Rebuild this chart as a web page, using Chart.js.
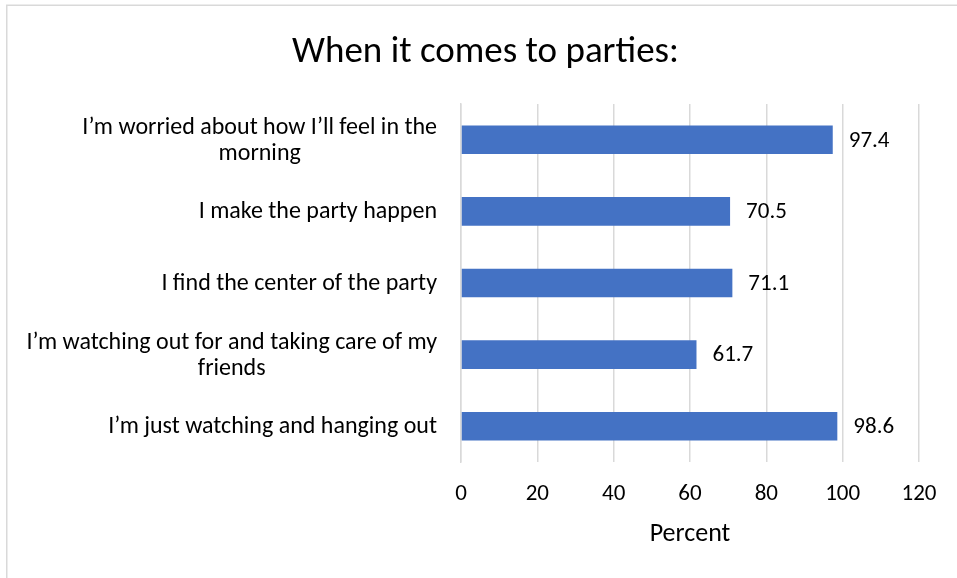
<!DOCTYPE html>
<html>
<head>
<meta charset="utf-8">
<script src="https://cdn.jsdelivr.net/npm/chart.js@4.4.0/dist/chart.umd.min.js"></script>
<style>
    html, body { margin: 0; padding: 0; background: #fff; }
    #wrap { width: 957px; height: 578px; position: relative; }
</style>
</head>
<body>
<div id="wrap"><canvas id="chartParties" width="957" height="578"></canvas></div>
<script>
// chart data
var categories = [
    ['I\u2019m worried about how I\u2019ll feel in the', 'morning'],
    ['I make the party happen'],
    ['I find the center of the party'],
    ['I\u2019m watching out for and taking care of my', 'friends'],
    ['I\u2019m just watching and hanging out']
];
var percentValues = [97.4, 70.5, 71.1, 61.7, 98.6];
var xTicks = [0, 20, 40, 60, 80, 100, 120];

var fontFamily = 'Carlito, Lato, "Open Sans", sans-serif';

// frame round the chart, like the excel chart border
var framePlugin = {
    id: 'frame',
    beforeDraw: function(chart) {
        var ctx = chart.ctx;
        ctx.save();
        ctx.fillStyle = '#ffffff';
        ctx.fillRect(0, 0, chart.width, chart.height);
        ctx.strokeStyle = '#d9d9d9';
        ctx.lineWidth = 1.5;
        ctx.strokeRect(6.75, 5.25, 1200, 1200);
        ctx.restore();
    }
};

// category labels, lines centred on each other, right edge near the axis
var catLabelPlugin = {
    id: 'catLabels',
    afterDraw: function(chart) {
        var ctx = chart.ctx;
        var yScale = chart.scales.y;
        var rightEdge = chart.chartArea.left - 24;
        var lineH = 26;
        ctx.save();
        ctx.font = '24px ' + fontFamily;
        ctx.fillStyle = '#000000';
        ctx.textAlign = 'center';
        ctx.textBaseline = 'middle';
        categories.forEach(function(lines, i) {
            var widest = 0;
            lines.forEach(function(l) { widest = Math.max(widest, ctx.measureText(l).width); });
            var cx = rightEdge - widest / 2;
            var cy = yScale.getPixelForValue(i) - (lines.length - 1) * lineH / 2 + 1;
            lines.forEach(function(l, j) {
                ctx.fillText(l, cx, cy + j * lineH);
            });
        });
        ctx.restore();
    }
};

// value labels at end of bars
var valueLabelPlugin = {
    id: 'valueLabels',
    afterDatasetsDraw: function(chart) {
        var ctx = chart.ctx;
        var meta = chart.getDatasetMeta(0);
        ctx.save();
        ctx.font = '23px ' + fontFamily;
        ctx.fillStyle = '#000000';
        ctx.textAlign = 'left';
        ctx.textBaseline = 'middle';
        meta.data.forEach(function(bar, i) {
            ctx.fillText(percentValues[i].toFixed(1), bar.x + 16, bar.y + 1);
        });
        ctx.restore();
    }
};

var ctx = document.getElementById('chartParties');
var myBarChartParties = new Chart(ctx, {
    type: 'bar',
    data: {
        labels: categories,
        datasets: [{
            label: 'Percent',
            data: percentValues,
            backgroundColor: '#4472C4',
            borderWidth: 0,
            barPercentage: 0.8,
            categoryPercentage: 0.5
        }]
    },
    options: {
        indexAxis: 'y',
        responsive: false,
        animation: false,
        layout: { padding: { left: 52, right: 38, top: 0, bottom: 0 } },
        plugins: {
            legend: { display: false },
            tooltip: { enabled: false },
            title: {
                display: true,
                text: 'When it comes to parties:',
                color: '#000000',
                font: { family: fontFamily, size: 37, weight: 'normal' },
                padding: { top: 31, bottom: 28.6 }
            }
        },
        scales: {
            x: {
                min: 0,
                max: 120,
                afterBuildTicks: function(scale) {
                    scale.ticks = xTicks.map(function(v) { return { value: v }; });
                },
                afterFit: function(scale) { scale.height = 116; },
                grid: { color: '#d9d9d9', lineWidth: 1.5, drawTicks: false },
                border: { display: false },
                ticks: {
                    color: '#000000',
                    padding: 18,
                    font: { family: fontFamily, size: 23 }
                },
                title: {
                    display: true,
                    text: 'Percent',
                    color: '#000000',
                    font: { family: fontFamily, size: 26 },
                    padding: { top: 0, bottom: 28 }
                }
            },
            y: {
                afterFit: function(scale) { scale.width = 409; },
                grid: { display: false, drawTicks: false },
                border: { display: true, color: '#d9d9d9', width: 1.5 },
                ticks: { display: false }
            }
        }
    },
    plugins: [framePlugin, catLabelPlugin, valueLabelPlugin]
});
</script>
</body>
</html>
